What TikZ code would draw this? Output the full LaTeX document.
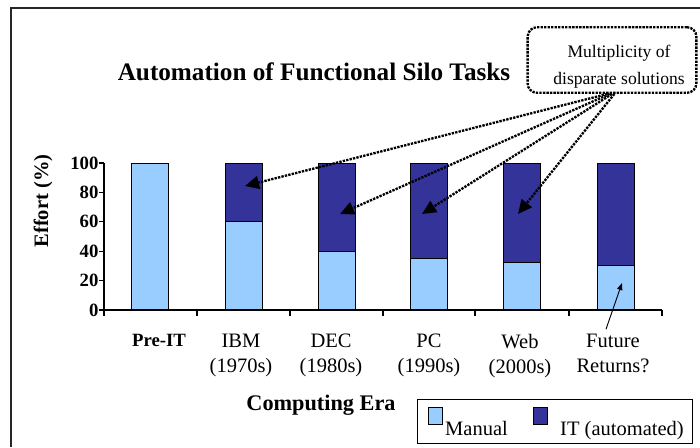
\documentclass[tikz,border=0pt]{standalone}
\usepackage{fontspec}
\setmainfont{Liberation Serif}
\usepackage{tikz}
\usetikzlibrary{arrows.meta}

\definecolor{manualblue}{HTML}{99CCFF}
\definecolor{itblue}{HTML}{333399}

\begin{document}
\begin{tikzpicture}[x=0.03cm, y=-0.03cm, auto,
		bar/.style={draw, line width=0.8pt},
		era/.style={font=\fontsize{17.5}{21}\selectfont, align=center, anchor=north, inner sep=0pt},
		ticklab/.style={font=\fontsize{16}{18}\selectfont\bfseries, anchor=east, inner sep=0pt},
		callout/.style={draw, densely dotted, line width=2pt, rounded corners=8pt,
			minimum width=144pt, minimum height=56pt},
		pointer/.style={densely dotted, line width=2pt, -{Triangle[length=12pt, width=11pt]}},
		key/.style={draw, line width=0.6pt, minimum width=12pt, minimum height=14pt, inner sep=0pt},
		keytext/.style={font=\fontsize{17.5}{20}\selectfont, anchor=base west, inner sep=0pt}]
		\useasboundingbox (0,0) rectangle (700,447);
		\draw[line width=1.6pt, black!85] (11,447) -- (11,8) -- (700,8);

		\node[font=\fontsize{21.5}{24}\selectfont\bfseries] (Title) at (314,72) {Automation of Functional Silo Tasks};

		\begin{scope}[shift={(0,310)}, y=0.0441cm]
			\draw[bar, fill=manualblue] (131.5,0) rectangle (168.5,100);
			\draw[bar, fill=manualblue] (225,0)   rectangle (262,60);
			\draw[bar, fill=itblue]     (225,60)  rectangle (262,100);
			\draw[bar, fill=manualblue] (318,0)   rectangle (355,40);
			\draw[bar, fill=itblue]     (318,40)  rectangle (355,100);
			\draw[bar, fill=manualblue] (410.5,0) rectangle (447.5,35);
			\draw[bar, fill=itblue]     (410.5,35) rectangle (447.5,100);
			\draw[bar, fill=manualblue] (503.5,0) rectangle (540.5,32);
			\draw[bar, fill=itblue]     (503.5,32) rectangle (540.5,100);
			\draw[bar, fill=manualblue] (597,0)   rectangle (634,30);
			\draw[bar, fill=itblue]     (597,30)  rectangle (634,100);

			\draw[line width=1pt] (104,100) -- (104,0) -- (662,0);
			\foreach \x in {104,197,290,383,475,569,662}
				\draw[line width=1pt] (\x,0) -- (\x,-4);
			\foreach \v in {0,20,...,100}
				\draw[line width=1pt] (99,\v) -- (104,\v) node[ticklab, at start] (Tick\v) {\v};
		\end{scope}

		\node[font=\fontsize{17.5}{20}\selectfont\bfseries, rotate=90] (EffortAxis) at (43,201) {Effort (\%)};

		\node[era, font=\fontsize{16}{21}\selectfont\bfseries] (PreIT) at (159,334) {Pre-IT};
		\node[era] (IBM)    at (241,334) {IBM\\(1970s)};
		\node[era] (DEC)    at (331,334) {DEC\\(1980s)};
		\node[era] (PC)     at (429,334) {PC\\(1990s)};
		\node[era] (Web)    at (520,334) {Web\\(2000s)};
		\node[era] (Future) at (613,334) {Future\\Returns?};

		\node[font=\fontsize{19}{22}\selectfont\bfseries] (EraAxis) at (321,405) {Computing Era};

		\node[callout] (Callout) at (612,60) {};
		\node[font=\fontsize{15}{23}\selectfont, align=center] (CalloutText) at (619,67) {Multiplicity of\\disparate solutions};

		\coordinate (TipIBM) at (245,186);
		\coordinate (TipDEC) at (340,214);
		\coordinate (TipPC)  at (422,214);
		\coordinate (TipWeb) at (518,214);
		\coordinate (TipFuture) at (622,283);

		\draw[pointer] ([xshift=-4pt]Callout.south) -- (TipIBM);
		\draw[pointer] ([xshift=-2pt]Callout.south) -- (TipDEC);
		\draw[pointer] (Callout.south) -- (TipPC);
		\draw[pointer] ([xshift=2pt]Callout.south) -- (TipWeb);
		\draw[line width=0.8pt, -{Triangle[length=6pt, width=4.5pt]}] ([xshift=-6pt, yshift=4pt]Future.north) -- (TipFuture);

		\node[draw, line width=0.8pt, minimum width=234pt, minimum height=37pt, inner sep=0pt] (Legend) at (555,421.5) {};
		\node[key, fill=manualblue] (KeyManual) at (435.5,416) {};
		\node[keytext] (LabelManual) at (445,435) {Manual};
		\node[key, fill=itblue] (KeyIT) at (540,416) {};
		\node[keytext] (LabelIT) at (560,435) {IT (automated)};
	\end{tikzpicture}
\end{document}
